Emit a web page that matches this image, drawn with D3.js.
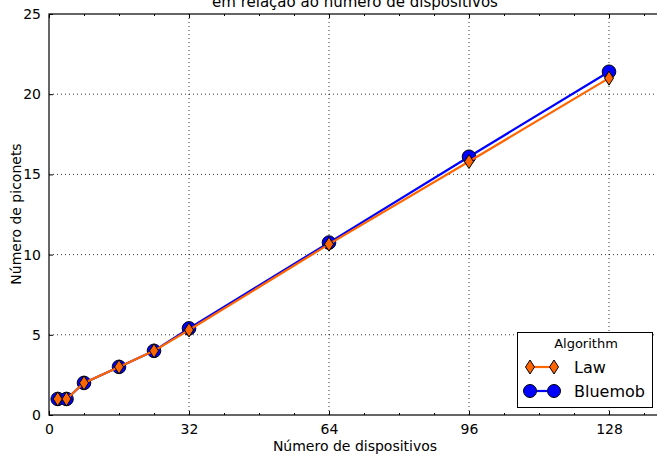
<html>
<head>
<style>
body { margin: 0; background: #fff; }
svg { font-family: "DejaVu Sans", sans-serif; display: block; }
.tick text { font-size: 14px; fill: #000; font-family: "DejaVu Sans", sans-serif; }
.grid line { stroke: #000; stroke-dasharray: 1,3; stroke-width: 0.8; }
</style>
<script src="https://d3js.org/d3.v7.min.js"></script>
</head>
<body>
<svg width="657" height="456"></svg>
<script>
// data
var devices = [2, 4, 8, 16, 24, 32, 64, 96, 128];
var law = [1, 1, 2, 3, 4, 5.3, 10.65, 15.8, 21.0];
var bluemob = [1, 1, 2, 3, 4, 5.4, 10.75, 16.1, 21.4];
var xTicks = [0, 32, 64, 96, 128];
var xMinor = [8, 16, 24, 40, 48, 56, 72, 80, 88, 104, 112, 120, 136];
var yTicks = [0, 5, 10, 15, 20, 25];

var svg = d3.select("svg"),
    pLeft = 49, pTop = 14, pRight = 661.5, pBottom = 415;

var x = d3.scaleLinear().domain([0, 140]).range([pLeft, pRight]);
var y = d3.scaleLinear().domain([0, 25]).range([pBottom, pTop]);

// grid
var grid = svg.append("g").attr("class", "grid");
grid.selectAll(".gx").data(xTicks.slice(1)).enter().append("line")
    .attr("x1", function(d) { return x(d); }).attr("x2", function(d) { return x(d); })
    .attr("y1", pTop).attr("y2", pBottom);
grid.selectAll(".gy").data(yTicks.slice(1, -1)).enter().append("line")
    .attr("x1", pLeft).attr("x2", pRight)
    .attr("y1", function(d) { return y(d); }).attr("y2", function(d) { return y(d); });

// axes, ticks pointing inwards like matplotlib
function styleAxis(g) {
  g.select(".domain").remove();
  g.selectAll(".tick line").attr("stroke", "#000");
}
svg.append("g").attr("transform", "translate(0," + pBottom + ")")
   .call(d3.axisBottom(x).tickValues(xTicks).tickSizeInner(-4).tickSizeOuter(0).tickPadding(9))
   .call(styleAxis);
svg.append("g").attr("transform", "translate(0," + pBottom + ")")
   .call(d3.axisBottom(x).tickValues(xMinor).tickSizeInner(-2).tickSizeOuter(0).tickFormat(""))
   .call(styleAxis);
svg.append("g").attr("transform", "translate(0," + pTop + ")")
   .call(d3.axisTop(x).tickValues(xTicks).tickSizeInner(-4).tickSizeOuter(0).tickFormat(""))
   .call(styleAxis);
svg.append("g").attr("transform", "translate(0," + pTop + ")")
   .call(d3.axisTop(x).tickValues(xMinor).tickSizeInner(-2).tickSizeOuter(0).tickFormat(""))
   .call(styleAxis);
svg.append("g").attr("transform", "translate(" + pLeft + ",0)")
   .call(d3.axisLeft(y).tickValues(yTicks).tickSizeInner(-4).tickSizeOuter(0).tickPadding(8))
   .call(styleAxis);

svg.append("rect")
   .attr("x", pLeft).attr("y", pTop)
   .attr("width", pRight - pLeft).attr("height", pBottom - pTop)
   .attr("fill", "none").attr("stroke", "#000").attr("stroke-width", 1.2);

// series
var line = d3.line()
    .x(function(d) { return x(d[0]); })
    .y(function(d) { return y(d[1]); });

var diamond = "M0,-7L4.5,0L0,7L-4.5,0Z";

function drawSeries(vals, color, marker) {
  var pts = devices.map(function(d, i) { return [d, vals[i]]; });
  var g = svg.append("g");
  g.append("path").datum(pts).attr("d", line)
   .attr("fill", "none").attr("stroke", color).attr("stroke-width", 2.2);
  var m = g.selectAll(".m").data(pts).enter();
  if (marker == "circle") {
    m.append("circle")
     .attr("cx", function(d) { return x(d[0]); })
     .attr("cy", function(d) { return y(d[1]); })
     .attr("r", 6.8).attr("fill", color).attr("stroke", "#000").attr("stroke-width", 1);
  } else {
    m.append("path").attr("d", diamond)
     .attr("transform", function(d) { return "translate(" + x(d[0]) + "," + y(d[1]) + ")"; })
     .attr("fill", color).attr("stroke", "#000").attr("stroke-width", 1);
  }
}
drawSeries(bluemob, "#0000ff", "circle");
drawSeries(law, "#ff6600", "diamond");

// labels
svg.append("text").attr("x", 355).attr("y", 7).attr("text-anchor", "middle")
   .attr("font-size", 15).text("em relação ao número de dispositivos");
svg.append("text").attr("x", 355).attr("y", 451).attr("text-anchor", "middle")
   .attr("font-size", 14).text("Número de dispositivos");
svg.append("text").attr("transform", "translate(21,214) rotate(-90)").attr("text-anchor", "middle")
   .attr("font-size", 14).text("Número de piconets");

// legend
var lg = svg.append("g");
lg.append("rect").attr("x", 517.5).attr("y", 332.5).attr("width", 135).attr("height", 75)
  .attr("fill", "#fff").attr("stroke", "#000").attr("stroke-width", 1);
lg.append("text").attr("x", 586).attr("y", 348).attr("text-anchor", "middle")
  .attr("font-size", 13).text("Algorithm");
var entries = [
  { name: "Law", color: "#ff6600", marker: "diamond", cy: 367 },
  { name: "Bluemob", color: "#0000ff", marker: "circle", cy: 391 }
];
entries.forEach(function(e) {
  lg.append("line").attr("x1", 530).attr("x2", 554).attr("y1", e.cy).attr("y2", e.cy)
    .attr("stroke", e.color).attr("stroke-width", 2.2);
  [530, 554].forEach(function(cx) {
    if (e.marker == "circle") {
      lg.append("circle").attr("cx", cx).attr("cy", e.cy).attr("r", 6.5)
        .attr("fill", e.color).attr("stroke", "#000");
    } else {
      lg.append("path").attr("d", diamond).attr("transform", "translate(" + cx + "," + e.cy + ")")
        .attr("fill", e.color).attr("stroke", "#000");
    }
  });
  lg.append("text").attr("x", 574).attr("y", e.cy + 5.5).attr("font-size", 16).text(e.name);
});
</script>
</body>
</html>
